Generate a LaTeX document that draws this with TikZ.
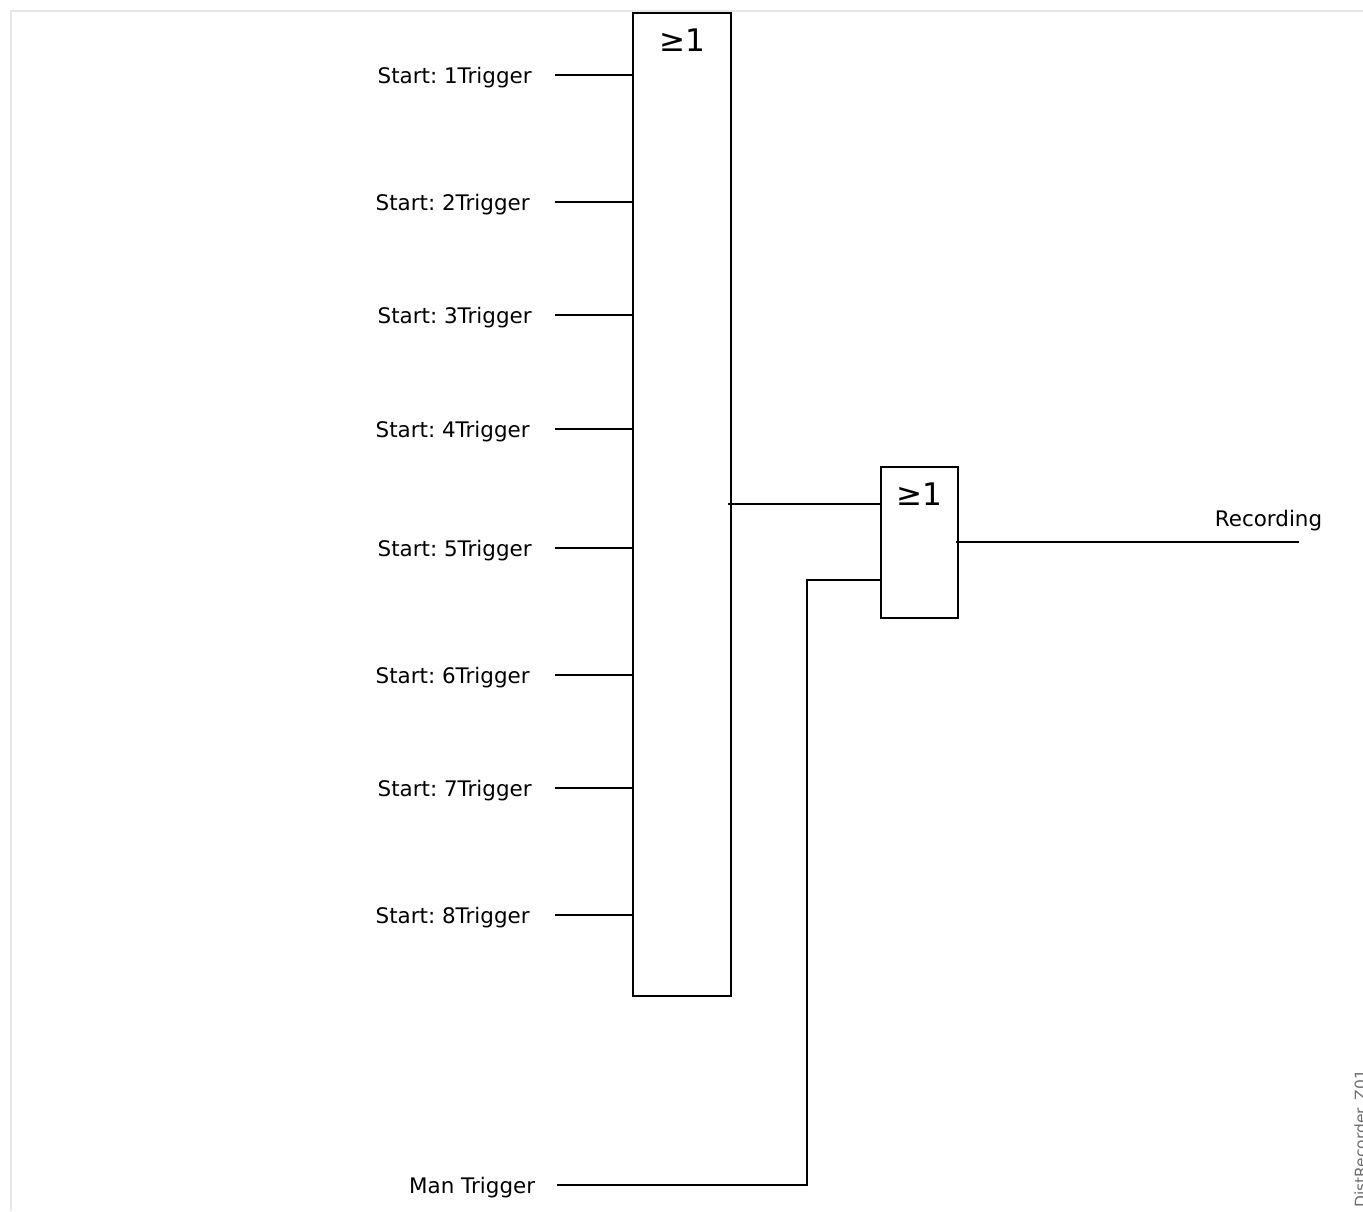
\documentclass[tikz,border=0pt]{standalone}
\usepackage{fontspec}
\setmainfont{DejaVu Sans}
\frenchspacing
\definecolor{framegray}{RGB}{230,230,230}
\definecolor{notegray}{RGB}{110,110,110}
\usetikzlibrary{positioning,calc}
\tikzset{
  gatebox/.style={draw=black, line width=1.3pt, fill=none, inner sep=0pt},
  gatelabel/.style={font=\fontsize{17.7pt}{20pt}\selectfont, inner sep=0pt},
  siglabel/.style={font=\fontsize{12.2pt}{14pt}\selectfont, inner sep=0pt, anchor=east},
  wire/.style={draw=black, line width=1.2pt}
}

\begin{document}
\begin{tikzpicture}
  \useasboundingbox (0,0) rectangle (27.26,24.22);

  % Page frame
  \coordinate (framelow) at (0.22,0);
  \coordinate (framecorner) at (0.22,24.00);
  \coordinate (frameend) at (27.26,24.00);
  \draw[framegray, line width=1.3pt] (framelow) -- (framecorner) -- (frameend);

  % Gates
  \node[gatebox, minimum width=1.96cm, minimum height=19.66cm] (orlarge) at (13.64,14.13) {};
  \node[gatelabel] (orlargetext) at (13.64,23.41) {≥1};
  \node[gatebox, minimum width=1.55cm, minimum height=3.03cm] (orsmall) at (18.39,13.37) {};
  \node[gatelabel] (orsmalltext) at (18.39,14.33) {≥1};

  % Start triggers
  \node[siglabel] (start1) at (10.64,22.67) {Start: 1Trigger};
  \node[siglabel] (start2) at (10.60,20.13) {Start: 2Trigger};
  \node[siglabel] (start3) at (10.64,17.87) {Start: 3Trigger};
  \node[siglabel] (start4) at (10.60,15.59) {Start: 4Trigger};
  \node[siglabel] (start5) at (10.64,13.21) {Start: 5Trigger};
  \node[siglabel] (start6) at (10.60,10.67) {Start: 6Trigger};
  \node[siglabel] (start7) at (10.64,8.41) {Start: 7Trigger};
  \node[siglabel] (start8) at (10.60,5.87) {Start: 8Trigger};

  % Free wire ends
  \coordinate (in1) at (11.10,22.72);
  \coordinate (in2) at (11.10,20.18);
  \coordinate (in3) at (11.10,17.92);
  \coordinate (in4) at (11.10,15.64);
  \coordinate (in5) at (11.10,13.26);
  \coordinate (in6) at (11.10,10.72);
  \coordinate (in7) at (11.10,8.46);
  \coordinate (in8) at (11.10,5.92);

  % Inputs of the large gate
  \draw[wire] (in1) -- (in1 -| orlarge.west);
  \draw[wire] (in2) -- (in2 -| orlarge.west);
  \draw[wire] (in3) -- (in3 -| orlarge.west);
  \draw[wire] (in4) -- (in4 -| orlarge.west);
  \draw[wire] (in5) -- (in5 -| orlarge.west);
  \draw[wire] (in6) -- (in6 -| orlarge.west);
  \draw[wire] (in7) -- (in7 -| orlarge.west);
  \draw[wire] (in8) -- (in8 -| orlarge.west);

  % Large gate to small gate
  \coordinate (orlargeout) at (14.56,14.14);
  \draw[wire] (orlargeout) -- (orlargeout -| orsmall.west);

  % Manual trigger
  \node[siglabel] (man) at (10.71,0.47) {Man Trigger};
  \coordinate (manstart) at (11.14,0.52);
  \coordinate (manbend) at (16.14,0.52);
  \coordinate (manin) at (16.14,12.62);
  \draw[wire] (manstart) -- (manbend) -- (manin) -- (manin -| orsmall.west);

  % Output
  \coordinate (orsmallout) at (19.12,13.38);
  \coordinate (recend) at (25.98,13.38);
  \draw[wire] (orsmallout) -- (recend);
  \node[siglabel] (rec) at (26.45,13.80) {Recording};

  % Drawing id
  \node[font=\fontsize{8.8pt}{10pt}\selectfont, text=notegray, rotate=90, anchor=base west, inner sep=0pt] (drawid) at (27.32,0.06) {DistRecorder\_Z01};
\end{tikzpicture}
\end{document}
